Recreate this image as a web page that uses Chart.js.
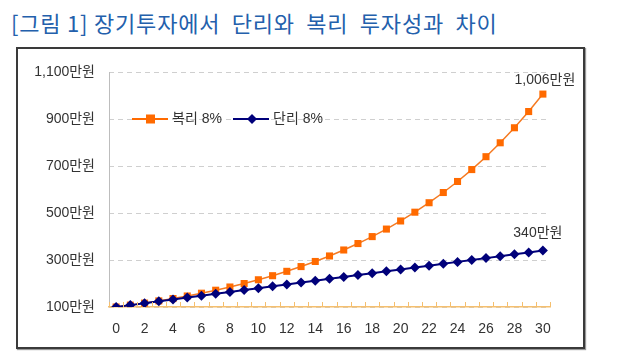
<!DOCTYPE html>
<html>
<head>
<meta charset="utf-8">
<script src="https://cdn.jsdelivr.net/npm/chart.js@4.4.0/dist/chart.umd.min.js"></script>
<style>
  body { margin: 0; background: #fff; width: 620px; height: 361px; position: relative; overflow: hidden; }
  #title { position: absolute; left: 11px; top: 6px; font-family: "Noto Sans CJK KR", "Noto Sans", sans-serif;
           font-size: 22px; color: #2360ac; white-space: pre; letter-spacing: 0.8px; }
  #frame { position: absolute; left: 16px; top: 47px; width: 565px; height: 298px; border: 2px solid #3a3a3a;
           box-shadow: 1px 1px 1px #999; }
  #frame canvas { display: block; }
</style>
</head>
<body>
<div id="title">[그림 1] 장기투자에서  단리와  복리  투자성과  차이</div>
<div id="frame"><canvas id="chart" width="565" height="298"></canvas></div>
<script>
// years
var years = ['0','1','2','3','4','5','6','7','8','9','10','11','12','13','14','15',
             '16','17','18','19','20','21','22','23','24','25','26','27','28','29','30'];
// 복리 8% (만원)
var compound = [100, 108, 116.6, 126, 136, 146.9, 158.7, 171.4, 185.1, 199.9, 215.9,
                233.2, 251.8, 272, 293.7, 317.2, 342.6, 370, 399.6, 431.6, 466.1,
                503.4, 543.7, 587.2, 634.1, 684.8, 739.6, 798.8, 862.7, 931.7, 1006];
// 단리 8% (만원)
var simple = [100, 108, 116, 124, 132, 140, 148, 156, 164, 172, 180, 188, 196, 204, 212,
              220, 228, 236, 244, 252, 260, 268, 276, 284, 292, 300, 308, 316, 324, 332, 340];
var seriesNames = ['복리 8%', '단리 8%'];
var endLabels = ['1,006만원', '340만원'];
var yTicks = [100, 300, 500, 700, 900, 1100];

var ORANGE = '#ff6a00';
var NAVY = '#00007a';
var AXIS_ORANGE = '#f5bf6e';
var FONT = '"Liberation Sans", "Noto Sans CJK KR", sans-serif';

Chart.defaults.font.family = FONT;
Chart.defaults.font.size = 14;
Chart.defaults.color = '#333';

var extras = {
  id: 'extras',
  beforeDatasetsDraw: function(chart) {
    var ctx = chart.ctx;
    var area = chart.chartArea;
    // solid y axis line
    ctx.save();
    ctx.strokeStyle = '#bdbdbd';
    ctx.lineWidth = 1;
    ctx.beginPath();
    ctx.moveTo(Math.round(area.left) + 0.5, area.top);
    ctx.lineTo(Math.round(area.left) + 0.5, area.bottom);
    ctx.stroke();
    ctx.restore();
  },
  afterDraw: function(chart) {
    var ctx = chart.ctx;
    var area = chart.chartArea;
    // tick marks pointing up from the x axis, between categories
    var step = (area.right - area.left) / years.length;
    ctx.save();
    ctx.strokeStyle = AXIS_ORANGE;
    ctx.lineWidth = 1;
    for (var i = 0; i <= years.length; i++) {
      var px = Math.round(area.left + i * step) + 0.5;
      ctx.beginPath();
      ctx.moveTo(px, area.bottom);
      ctx.lineTo(px, area.bottom - 5);
      ctx.stroke();
    }
    ctx.restore();

    // legend inside plot
    var ly = chart.scales.y.getPixelForValue(900);
    var items = [
      { x: area.left + 23, color: ORANGE, style: 'rect' },
      { x: area.left + 124, color: NAVY, style: 'rectRot' }
    ];
    ctx.save();
    ctx.font = '14px ' + FONT;
    ctx.textBaseline = 'middle';
    items.forEach(function(it, k) {
      ctx.strokeStyle = it.color;
      ctx.lineWidth = 2;
      ctx.beginPath();
      ctx.moveTo(it.x, ly);
      ctx.lineTo(it.x + 36, ly);
      ctx.stroke();
      ctx.fillStyle = it.color;
      if (it.style === 'rect') {
        ctx.fillRect(it.x + 14, ly - 4.5, 9, 9);
      } else {
        ctx.beginPath();
        ctx.moveTo(it.x + 19, ly - 5);
        ctx.lineTo(it.x + 24, ly);
        ctx.lineTo(it.x + 19, ly + 5);
        ctx.lineTo(it.x + 14, ly);
        ctx.closePath();
        ctx.fill();
      }
      ctx.fillStyle = '#333';
      ctx.textAlign = 'left';
      ctx.fillText(seriesNames[k], it.x + 40, ly);
    });

    // end labels
    ctx.textAlign = 'center';
    ctx.textBaseline = 'bottom';
    [0, 1].forEach(function(d) {
      var meta = chart.getDatasetMeta(d);
      var pt = meta.data[meta.data.length - 1];
      var dx = d === 0 ? 2 : -5;
      var dy = d === 0 ? 7 : 10;
      ctx.fillText(endLabels[d], pt.x + dx, pt.y - dy);
    });
    ctx.restore();
  }
};

new Chart(document.getElementById('chart').getContext('2d'), {
  type: 'line',
  data: {
    labels: years,
    datasets: [{
      label: seriesNames[0],
      data: compound,
      borderColor: '#f57a22',
      borderWidth: 1.5,
      backgroundColor: ORANGE,
      pointStyle: 'rect',
      pointRadius: 5,
      pointBorderWidth: 0,
      pointBackgroundColor: ORANGE,
      order: 2
    }, {
      label: seriesNames[1],
      data: simple,
      borderColor: NAVY,
      borderWidth: 2,
      backgroundColor: NAVY,
      pointStyle: 'rectRot',
      pointRadius: 5,
      pointBorderWidth: 0,
      pointBackgroundColor: NAVY,
      order: 1
    }]
  },
  options: {
    responsive: false,
    animation: false,
    layout: { padding: { top: 23, right: 33, bottom: 0, left: 0 } },
    plugins: { legend: { display: false }, tooltip: { enabled: false } },
    scales: {
      x: {
        type: 'category',
        offset: true,
        grid: { display: true, drawOnChartArea: false, drawTicks: false, offset: true },
        border: { display: true, color: AXIS_ORANGE, width: 1.5 },
        ticks: {
          autoSkip: false, maxRotation: 0, padding: 14,
          callback: function(v, i) { return i % 2 === 0 ? years[i] : ''; }
        },
        afterFit: function(s) { s.height = 40; }
      },
      y: {
        min: 100, max: 1100,
        afterBuildTicks: function(s) { s.ticks = yTicks.map(function(v) { return { value: v }; }); },
        grid: { color: '#cfcfcf', drawTicks: false, lineWidth: 1 },
        border: { display: false, dash: [5, 4] },
        ticks: {
          padding: 14,
          callback: function(v) { return v.toLocaleString('en-US') + '만원'; }
        },
        afterFit: function(s) { s.width = 91; }
      }
    }
  },
  plugins: [extras]
});
</script>
</body>
</html>
